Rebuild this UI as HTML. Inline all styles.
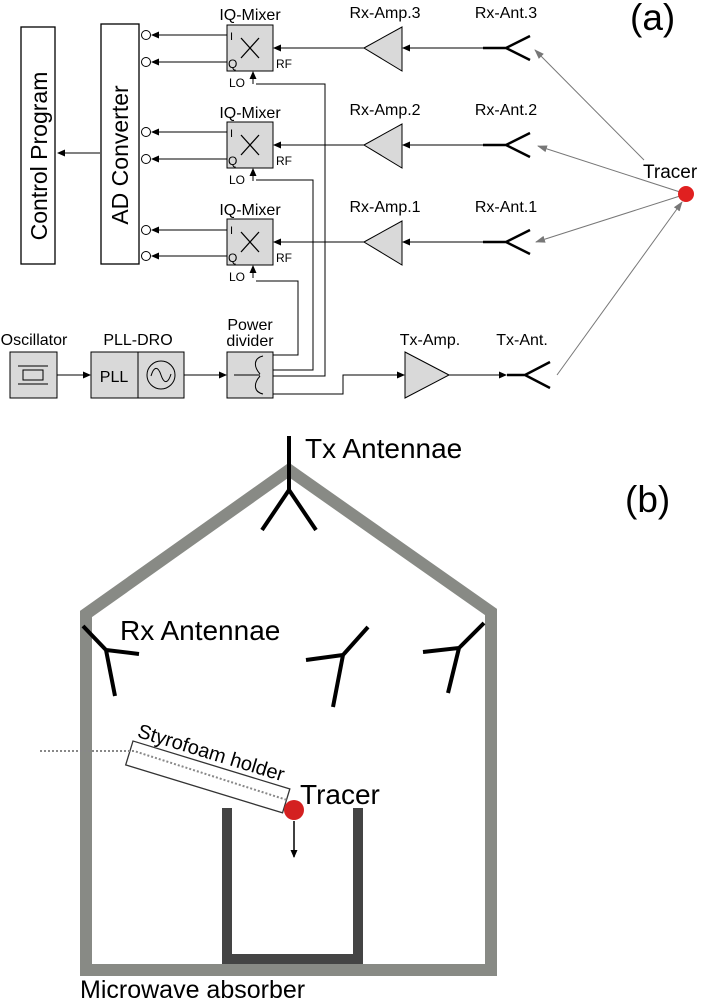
<!DOCTYPE html>
<html><head><meta charset="utf-8"><style>
html,body{margin:0;padding:0;background:#fff}
svg{display:block}
text{font-family:"Liberation Sans",sans-serif}
</style></head><body>
<svg width="706" height="1001" viewBox="0 0 706 1001" xmlns="http://www.w3.org/2000/svg">
<defs>
<marker id="a" markerWidth="8" markerHeight="8" refX="7" refY="4" orient="auto" markerUnits="userSpaceOnUse"><path d="M0,0.5 L8,4 L0,7.5z" fill="#000"/></marker>
<marker id="g" markerWidth="10" markerHeight="8" refX="9" refY="4" orient="auto" markerUnits="userSpaceOnUse"><path d="M0,0.5 L10,4 L0,7.5z" fill="#777"/></marker>
</defs>
<!-- (a) -->
<rect x="21" y="27" width="34" height="237" fill="#fff" stroke="#000" stroke-width="1.3"/>
<text transform="translate(47,156) rotate(-90)" font-size="23" text-anchor="middle">Control Program</text>
<rect x="101" y="24" width="38" height="240" fill="#fff" stroke="#000" stroke-width="1.3"/>
<text transform="translate(128,155) rotate(-90)" font-size="23" text-anchor="middle">AD Converter</text>
<line x1="100" y1="153" x2="58" y2="153" stroke="#000" marker-end="url(#a)"/>
<g fill="#fff" stroke="#000">
<circle cx="146" cy="35" r="4.5"/><circle cx="146" cy="62" r="4.5"/>
<circle cx="146" cy="132" r="4.5"/><circle cx="146" cy="159" r="4.5"/>
<circle cx="146" cy="230" r="4.5"/><circle cx="146" cy="256" r="4.5"/>
</g>
<g stroke="#000" marker-end="url(#a)">
<line x1="227" y1="35" x2="152" y2="35"/><line x1="227" y1="62" x2="152" y2="62"/>
<line x1="227" y1="132" x2="152" y2="132"/><line x1="227" y1="159" x2="152" y2="159"/>
<line x1="227" y1="230" x2="152" y2="230"/><line x1="227" y1="256" x2="152" y2="256"/>
</g>
<!-- mixers -->
<g font-size="16" text-anchor="middle"><text x="250" y="20">IQ-Mixer</text><text x="250" y="118">IQ-Mixer</text><text x="250" y="215">IQ-Mixer</text></g>
<g id="m">
<rect x="227" y="25" width="46" height="46" fill="#d9d9d9" stroke="#000"/>
<path d="M241,38 L259,58 M259,38 L241,58" stroke="#000" stroke-width="1.3"/>
<text x="230" y="40" font-size="11">I</text><text x="228" y="68" font-size="12">Q</text>
<text x="276" y="68" font-size="12">RF</text><text x="229" y="87" font-size="12">LO</text>
</g>
<use href="#m" y="97"/><use href="#m" y="194"/>
<!-- RF lines -->
<g stroke="#000" marker-end="url(#a)">
<line x1="364" y1="48" x2="274" y2="48"/><line x1="364" y1="145" x2="274" y2="145"/><line x1="364" y1="242" x2="274" y2="242"/>
<line x1="483" y1="48" x2="403" y2="48"/><line x1="483" y1="145" x2="403" y2="145"/><line x1="483" y1="242" x2="403" y2="242"/>
</g>
<g fill="#d9d9d9" stroke="#000">
<path d="M364,48 L402,27 L402,71z"/><path d="M364,145 L402,124 L402,168z"/><path d="M364,242 L402,221 L402,265z"/>
</g>
<g font-size="16" text-anchor="middle">
<text x="385" y="18">Rx-Amp.3</text><text x="385" y="115">Rx-Amp.2</text><text x="385" y="212">Rx-Amp.1</text>
<text x="506" y="18">Rx-Ant.3</text><text x="506" y="115">Rx-Ant.2</text><text x="506" y="212">Rx-Ant.1</text>
</g>
<g stroke="#000" stroke-width="2.5" fill="none">
<path d="M483,48 H506 M530,36 L506,48 L530,60"/>
<path d="M483,145 H506 M530,133 L506,145 L530,157"/>
<path d="M483,242 H506 M530,230 L506,242 L530,254"/>
<path d="M507,375 H525 M550,362 L525,375 L550,388"/>
</g>
<!-- tracer arrows -->
<g stroke="#777" stroke-width="1" marker-end="url(#g)">
<line x1="644" y1="160" x2="535" y2="50"/>
<line x1="680" y1="192" x2="538" y2="146"/>
<line x1="680" y1="196" x2="536" y2="242"/>
<line x1="557" y1="375" x2="682" y2="202"/>
</g>
<circle cx="686" cy="194" r="8" fill="#e02020"/>
<text x="643" y="178" font-size="19">Tracer</text>
<text x="630" y="30" font-size="37">(a)</text>
<!-- LO lines -->
<g stroke="#000" fill="none">
<path d="M273,355 H298 V281 H256"/><path d="M273,370 H313 V180 H256"/><path d="M273,376 H325 V84 H256"/>
<path d="M273,394 H343 V375 H404" marker-end="url(#a)"/>
</g>
<g stroke="#000" marker-end="url(#a)">
<line x1="253" y1="84" x2="253" y2="72"/><line x1="253" y1="181" x2="253" y2="169"/><line x1="253" y1="278" x2="253" y2="266"/>
<line x1="57" y1="375" x2="90" y2="375"/><line x1="184" y1="375" x2="226" y2="375"/>
<line x1="449" y1="375" x2="506" y2="375"/>
</g>
<!-- bottom row -->
<rect x="10" y="352" width="47" height="46" fill="#d9d9d9" stroke="#000"/>
<path d="M18,366 H48 M18,384 H48" stroke="#000"/><rect x="23" y="370" width="20" height="10" fill="none" stroke="#000"/>
<rect x="91" y="352" width="93" height="46" fill="#d9d9d9" stroke="#000"/><line x1="138" y1="352" x2="138" y2="398" stroke="#000"/>
<text x="114" y="382" font-size="16" text-anchor="middle">PLL</text>
<circle cx="161" cy="375" r="14" fill="none" stroke="#000"/>
<path d="M151,376 C154,366 158,366 161,375 C164,384 168,384 171,374" fill="none" stroke="#000"/>
<rect x="227" y="352" width="46" height="46" fill="#d9d9d9" stroke="#000"/>
<path d="M234,375 H260 M263,356 C254,358 253,366 260,374 M263,394 C254,392 253,384 260,376" fill="none" stroke="#000"/>
<path d="M449,375 L405,352 L405,398z" fill="#d9d9d9" stroke="#000"/>
<g font-size="16" text-anchor="middle">
<text x="34" y="345">Oscillator</text><text x="138" y="345">PLL-DRO</text>
<text x="250" y="330">Power</text><text x="250" y="346">divider</text>
<text x="430" y="345">Tx-Amp.</text><text x="522" y="345">Tx-Ant.</text>
</g>
<!-- (b) -->
<g stroke="#888a85" stroke-width="12" fill="none">
<path d="M86,968 V614 L289,470 L491,612 V968"/>
<line x1="80" y1="970" x2="497" y2="970"/>
</g>
<path d="M227,808 V959 H358 V808" stroke="#444" stroke-width="10" fill="none"/>
<g stroke="#000" stroke-width="4" fill="none" stroke-linecap="butt">
<path d="M289,436 V490 M262,530 L289,490 L316,530"/>
<path d="M83,626 L106,650 L139,654 M106,650 L115,696"/>
<path d="M368,627 L343,655 L306,660 M343,655 L333,707"/>
<path d="M484,623 L459,648 L423,652 M459,648 L448,693"/>
</g>
<text x="305" y="458" font-size="28">Tx Antennae</text>
<text x="625" y="512" font-size="37">(b)</text>
<text x="120" y="640" font-size="28">Rx Antennae</text>
<g transform="translate(133,741) rotate(17)">
<rect x="0" y="0" width="164" height="25" fill="#fff" stroke="#333" stroke-width="1.3"/>
<text x="2" y="-5" font-size="20">Styrofoam holder</text>
</g>
<path d="M40,751 H134 L287,800" stroke="#888" stroke-width="2" stroke-dasharray="2,2" fill="none"/>
<circle cx="294" cy="810" r="10" fill="#d42020"/>
<text x="300" y="804" font-size="28">Tracer</text>
<line x1="294" y1="821" x2="294" y2="857" stroke="#000" stroke-width="1.5" marker-end="url(#a)"/>
<text x="80" y="998" font-size="25">Microwave absorber</text>
</svg>
</body></html>
